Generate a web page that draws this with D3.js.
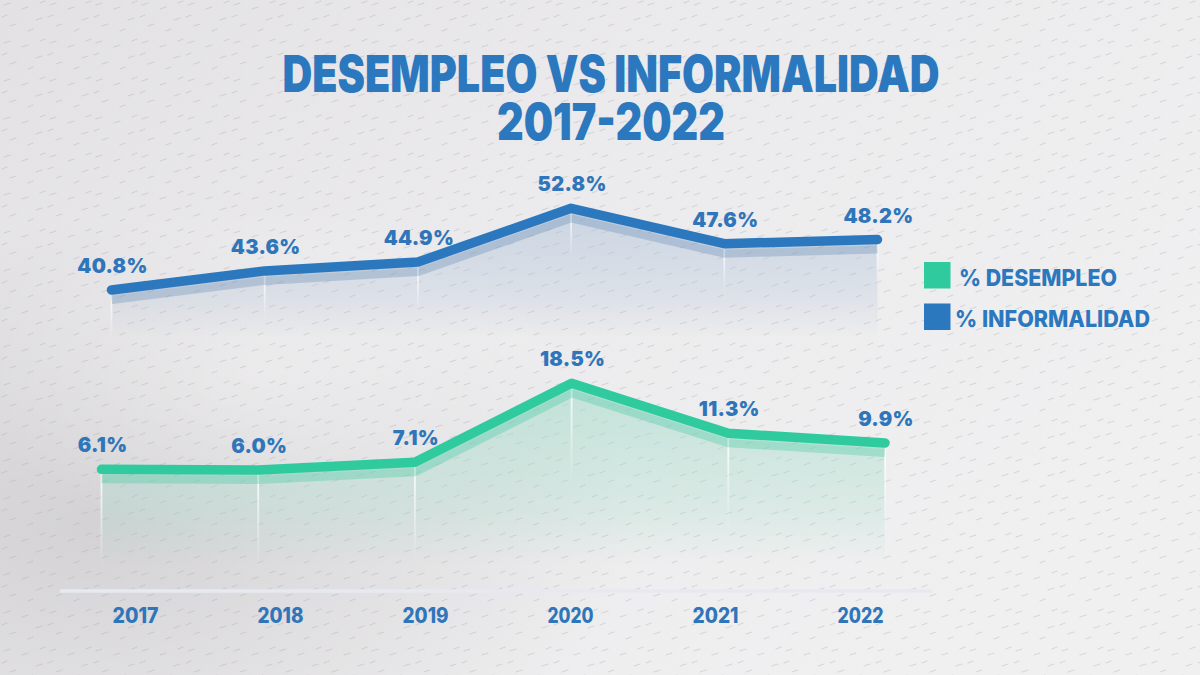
<!DOCTYPE html>
<html>
<head>
<meta charset="utf-8">
<script src="https://cdn.jsdelivr.net/npm/d3@7"></script>
<style>
  html, body { margin: 0; padding: 0; background: #e9e8ea; }
  svg { display: block; }
</style>
</head>
<body>
<svg id="chart" width="1200" height="675"></svg>
<script>
// ---- data ----
const years = ["2017", "2018", "2019", "2020", "2021", "2022"];
const desempleo = [6.1, 6.0, 7.1, 18.5, 11.3, 9.9];
const informalidad = [40.8, 43.6, 44.9, 52.8, 47.6, 48.2];
const seriesNames = ["% DESEMPLEO", "% INFORMALIDAD"];
const titleLines = ["DESEMPLEO VS INFORMALIDAD", "2017-2022"];

// ---- styles ----
const BLUE = "#2b78bf";
const TEAL = "#2fcb9e";
const TEXT = "#2f75ba";
const HEAVY = "Inter, Roboto, sans-serif";

const svg = d3.select("#chart");
const defs = svg.append("defs");

// background gradients
const bg = defs.append("linearGradient").attr("id", "bg").attr("x1", 0).attr("y1", 0).attr("x2", 1).attr("y2", 0.6);
bg.append("stop").attr("offset", "0%").attr("stop-color", "#e3e1e3");
bg.append("stop").attr("offset", "45%").attr("stop-color", "#ebeaec");
bg.append("stop").attr("offset", "100%").attr("stop-color", "#f1f0f1");
const shade = defs.append("radialGradient").attr("id", "shade").attr("cx", 0.08).attr("cy", 0.78).attr("r", 0.45);
shade.append("stop").attr("offset", "0%").attr("stop-color", "#c4c2c4").attr("stop-opacity", 0.6);
shade.append("stop").attr("offset", "100%").attr("stop-color", "#c4c2c4").attr("stop-opacity", 0);
const light = defs.append("radialGradient").attr("id", "light").attr("cx", 0.22).attr("cy", 0.55).attr("r", 0.25);
light.append("stop").attr("offset", "0%").attr("stop-color", "#ffffff").attr("stop-opacity", 0.35);
light.append("stop").attr("offset", "100%").attr("stop-color", "#ffffff").attr("stop-opacity", 0);

// texture pattern of small dashes (decorative)
const pat = defs.append("pattern").attr("id", "tex").attr("width", 46).attr("height", 38).attr("patternUnits", "userSpaceOnUse");
const dashSegs = [[4,5,10,3],[22,9,28,7],[36,20,42,18],[10,26,16,24],[28,31,33,29],[2,17,7,15],[40,3,45,1]];
pat.selectAll("line").data(dashSegs).join("line")
  .attr("x1", d => d[0]).attr("y1", d => d[1]).attr("x2", d => d[2]).attr("y2", d => d[3])
  .attr("stroke", "#a9a7ad").attr("stroke-opacity", 0.35).attr("stroke-width", 1.2).attr("stroke-linecap", "round");

svg.append("rect").attr("width", 1200).attr("height", 675).attr("fill", "url(#bg)");
svg.append("rect").attr("width", 1200).attr("height", 675).attr("fill", "url(#shade)");
svg.append("rect").attr("width", 1200).attr("height", 675).attr("fill", "url(#light)");
svg.append("rect").attr("width", 1200).attr("height", 675).attr("fill", "url(#tex)");

// ---- scales ----
const xInf = d3.scalePoint().domain(years).range([111.5, 877.5]);
const xDes = d3.scalePoint().domain(years).range([101.5, 885]);
const xYear = d3.scalePoint().domain(years).range([135, 860]);
const yInf = d3.scaleLinear().domain([40, 55]).range([295.4, 193.3]);
const yDes = d3.scaleLinear().domain([0, 20]).range([511.6, 372.9]);

const infData = years.map((y, i) => ({ year: y, v: informalidad[i] }));
const desData = years.map((y, i) => ({ year: y, v: desempleo[i] }));

function areaGrad(id, color, top, bottom, o1) {
  const g = defs.append("linearGradient").attr("id", id)
    .attr("gradientUnits", "userSpaceOnUse").attr("x1", 0).attr("x2", 0).attr("y1", top).attr("y2", bottom);
  g.append("stop").attr("offset", "0%").attr("stop-color", color).attr("stop-opacity", o1);
  g.append("stop").attr("offset", "70%").attr("stop-color", color).attr("stop-opacity", o1 * 0.45);
  g.append("stop").attr("offset", "100%").attr("stop-color", color).attr("stop-opacity", 0);
}
areaGrad("infArea", "#a9bfd8", 210, 338, 0.5);
areaGrad("desArea", "#9fdcc8", 385, 565, 0.55);

function dropGrad(id, top, bottom) {
  const g = defs.append("linearGradient").attr("id", id)
    .attr("gradientUnits", "userSpaceOnUse").attr("x1", 0).attr("x2", 0).attr("y1", top).attr("y2", bottom);
  g.append("stop").attr("offset", "0%").attr("stop-color", "#ffffff").attr("stop-opacity", 0.9);
  g.append("stop").attr("offset", "100%").attr("stop-color", "#ffffff").attr("stop-opacity", 0);
}

function drawSeries(data, x, y, color, shadowColor, areaId, areaBottom, dropLen, key) {
  const g = svg.append("g");
  const area = d3.area().x(d => x(d.year)).y0(areaBottom).y1(d => y(d.v) + 6);
  g.append("path").datum(data).attr("d", area).attr("fill", `url(#${areaId})`);

  data.forEach((d, i) => {
    const top = y(d.v) + 4;
    const id = `drop-${key}-${i}`;
    dropGrad(id, top, top + dropLen);
    g.append("rect").attr("x", x(d.year) - 0.9).attr("y", top).attr("width", 1.8).attr("height", dropLen)
      .attr("fill", `url(#${id})`);
  });

  const line = d3.line().x(d => x(d.year)).y(d => y(d.v));
  g.append("path").datum(data).attr("d", line).attr("transform", "translate(0,9)")
    .attr("fill", "none").attr("stroke", shadowColor).attr("stroke-width", 10).attr("stroke-linejoin", "round");
  g.append("path").datum(data).attr("d", line)
    .attr("fill", "none").attr("stroke", color).attr("stroke-width", 9.5)
    .attr("stroke-linejoin", "round").attr("stroke-linecap", "round");

  g.selectAll("text.val").data(data).join("text")
    .attr("class", "val")
    .attr("x", d => x(d.year) + 1)
    .attr("y", d => y(d.v) - 17)
    .attr("text-anchor", "middle")
    .attr("font-family", HEAVY)
    .attr("font-weight", 900)
    .attr("font-size", 20)
    .attr("letter-spacing", 0.3)
    .attr("fill", TEXT)
    .text(d => d.v.toFixed(1) + "%");
}

drawSeries(infData, xInf, yInf, BLUE, "rgba(70,115,165,0.26)", "infArea", 338, 45, "inf");
drawSeries(desData, xDes, yDes, TEAL, "rgba(60,200,160,0.32)", "desArea", 565, 95, "des");

// ---- x axis ----
svg.append("line").attr("x1", 60).attr("x2", 932).attr("y1", 591).attr("y2", 591)
  .attr("stroke", "#e6eaf0").attr("stroke-width", 3.5);
const xAxis = d3.axisBottom(xYear).tickSize(0).tickPadding(0);
const axG = svg.append("g").attr("transform", "translate(0,607)").call(xAxis);
axG.select(".domain").remove();
axG.selectAll("text")
  .attr("font-family", HEAVY)
  .attr("font-weight", 800)
  .attr("font-size", 21)
  .attr("textLength", 46).attr("lengthAdjust", "spacingAndGlyphs")
  .attr("fill", TEXT)
  .attr("dy", "0.75em");

// ---- title ----
const titleWidths = [657, 228];
const titleY = [92, 140];
titleLines.forEach((t, i) => {
  svg.append("text")
    .attr("x", 611 - titleWidths[i] / 2).attr("y", titleY[i])
    .attr("textLength", titleWidths[i]).attr("lengthAdjust", "spacingAndGlyphs")
    .attr("font-family", HEAVY).attr("font-weight", 900).attr("font-size", 51)
    .attr("fill", BLUE)
    .text(t);
});

// ---- legend ----
const legendColors = [TEAL, BLUE];
const legendWidths = [158, 195];
seriesNames.forEach((name, i) => {
  const y0 = 262 + i * 41.5;
  svg.append("rect").attr("x", 924).attr("y", y0).attr("width", 26.5).attr("height", 26.5).attr("fill", legendColors[i]);
  svg.append("text")
    .attr("x", i === 0 ? 959 : 955).attr("y", y0 + 23.5)
    .attr("textLength", legendWidths[i]).attr("lengthAdjust", "spacingAndGlyphs")
    .attr("font-family", HEAVY).attr("font-weight", 800).attr("font-size", 23)
    .attr("fill", BLUE)
    .text(name);
});
</script>
</body>
</html>
